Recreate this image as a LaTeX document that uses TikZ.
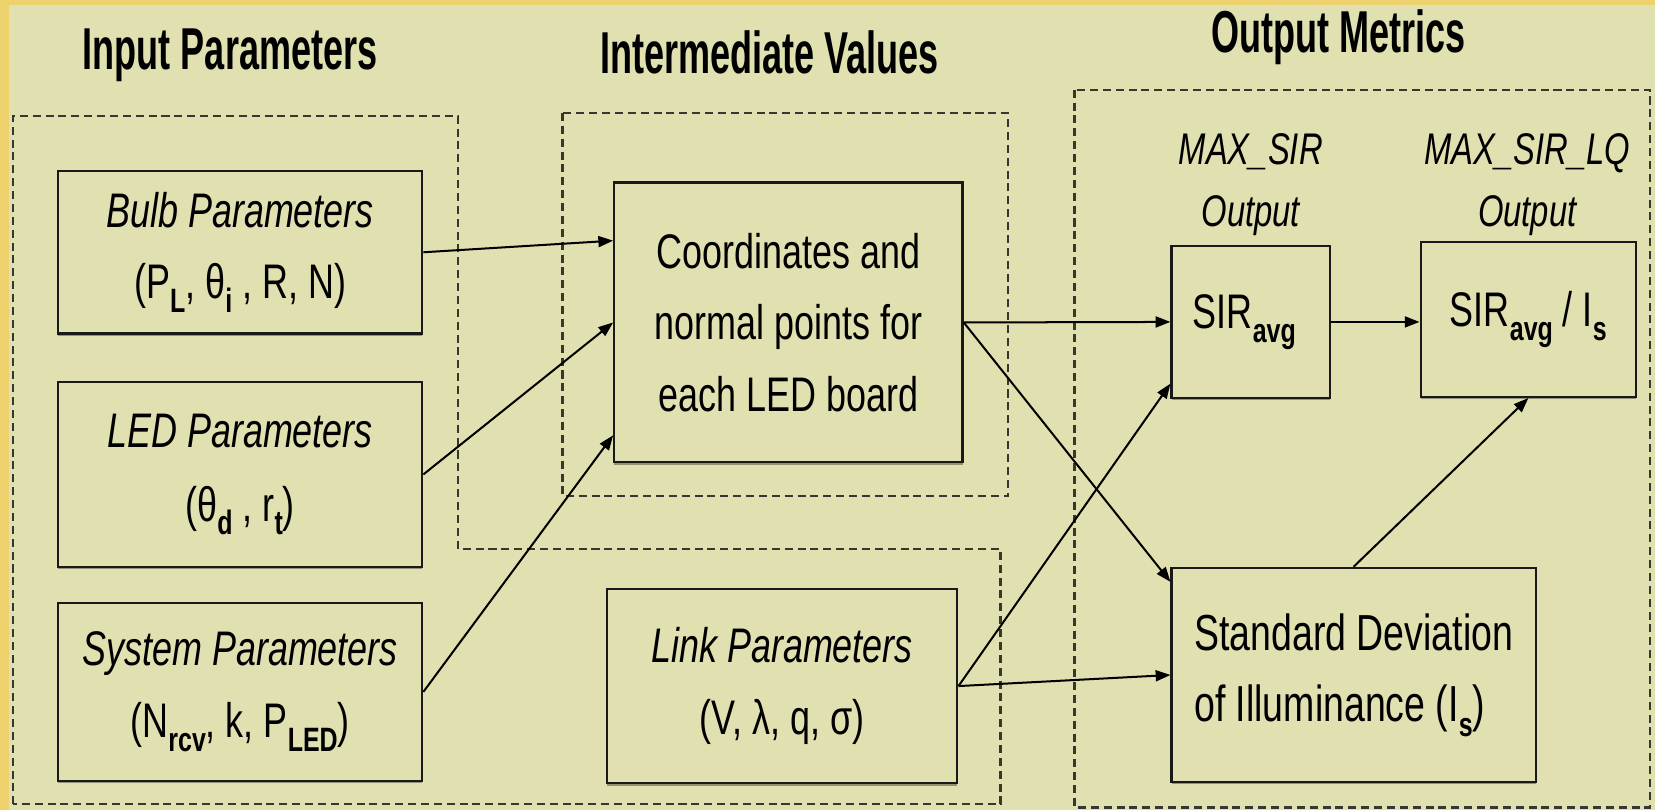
\documentclass[tikz,border=0pt]{standalone}
\usepackage{fontspec}
\setmainfont{Liberation Sans}[FakeStretch=0.74]
\newfontfamily\headfont{Liberation Sans}[FakeStretch=0.61]
\usetikzlibrary{arrows.meta,calc,shadows}
\definecolor{panelbg}{RGB}{224,224,176}
\definecolor{goldedge}{RGB}{238,210,110}
\definecolor{dashgray}{RGB}{55,55,48}
\newcommand{\lowsub}[1]{\raisebox{-0.28em}{\fontsize{16}{16}\selectfont\bfseries #1}}

\begin{document}
\begin{tikzpicture}[x=0.5pt,y=-0.5pt,
  box/.style={draw=black!90,line width=1.1pt,fill=panelbg,inner sep=0pt,align=center,
    font=\fontsize{23}{34}\selectfont,
    drop shadow={shadow xshift=0pt,shadow yshift=-1.1pt,opacity=0.35,fill=black}},
  region/.style={draw=dashgray,line width=1.1pt,dash pattern=on 3.8pt off 2.3pt},
  heading/.style={font=\headfont\fontsize{28}{30}\selectfont\bfseries,inner sep=0pt,anchor=base},
  caption/.style={font=\fontsize{21}{27}\selectfont\itshape,align=center,inner sep=0pt},
  arr/.style={draw=black,line width=0.95pt,-{Triangle[length=7pt,width=5.2pt]}}]

% canvas
\useasboundingbox (0,0) rectangle (1568,767);
\fill[panelbg] (0,0) rectangle (1568,767);
\fill[goldedge] (0,0) rectangle (9,767);
\fill[goldedge] (0,0) rectangle (1568,5);

% grouping outlines
\draw[region] (12,762) -- (12,110) -- (434,110) -- (434,520) -- (948,520) -- (948,762) -- cycle;
\draw[region] (533,107) rectangle (955,470);
\draw[region] (1018,85) rectangle (1563,765);

% column headings
\node[heading] (hin)  at (218,66)  {Input Parameters};
\node[heading] (hmid) at (729,70)  {Intermediate Values};
\node[heading] (hout) at (1268,50) {Output Metrics};

% input blocks
\node[box,minimum width=172.5pt,minimum height=77pt] (bulb) at (227.5,239)
  {\textit{Bulb Parameters}\\(P\lowsub{L}, θ\lowsub{i} , R, N)};
\node[box,minimum width=172.5pt,minimum height=87.5pt] (led) at (227.5,449.5)
  {\textit{LED Parameters}\\[1pt](θ\lowsub{d} , r\lowsub{t})};
\node[box,minimum width=172.5pt,minimum height=84.5pt] (sys) at (227.5,655.5)
  {\textit{System Parameters}\\(N\lowsub{rcv}, k, P\lowsub{LED})};

% intermediate blocks
\node[box,minimum width=165pt,minimum height=132.5pt] (coord) at (747,305.5)
  {Coordinates and\\normal points for\\each LED board};
\node[box,minimum width=166pt,minimum height=92pt] (link) at (741,650)
  {\textit{Link Parameters}\\(V, λ, q, σ)};

% output blocks
\node[box,minimum width=75pt,minimum height=72pt] (sir) at (1185,305)
  {SIR\lowsub{avg}\hspace*{6pt}};
\node[box,minimum width=102pt,minimum height=73.5pt] (sirlq) at (1448,302.5)
  {SIR\lowsub{avg} / I\lowsub{s}};
\node[box,minimum width=172.5pt,minimum height=101.5pt,align=left,
  font=\fontsize{24}{34}\selectfont] (std) at (1282.5,639.5)
  {Standard Deviation\\of Illuminance (I\lowsub{s})};

% output captions
\node[caption] (capsir)   at (1185,175) {MAX\_SIR\\[2pt]Output};
\node[caption] (capsirlq) at (1447,175) {MAX\_SIR\_LQ\\[2pt]Output};

% connectors
\draw[arr] (bulb.east) -- ($(coord.north west)!0.21!(coord.south west)$);
\draw[arr] (led.east)  -- (coord.west);
\draw[arr] (sys.east)  -- ($(coord.north west)!0.9!(coord.south west)$);
\draw[arr] (coord.east) -- (sir.west);
\draw[arr] (coord.east) -- ($(std.north west)!0.07!(std.south west)$);
\draw[arr] (link.east) -- ($(sir.north west)!0.9!(sir.south west)$);
\draw[arr] (link.east) -- (std.west);
\draw[arr] (sir.east) -- (sirlq.west |- sir.east);
\draw[arr] (std.north) -- (sirlq.south);
\end{tikzpicture}
\end{document}
